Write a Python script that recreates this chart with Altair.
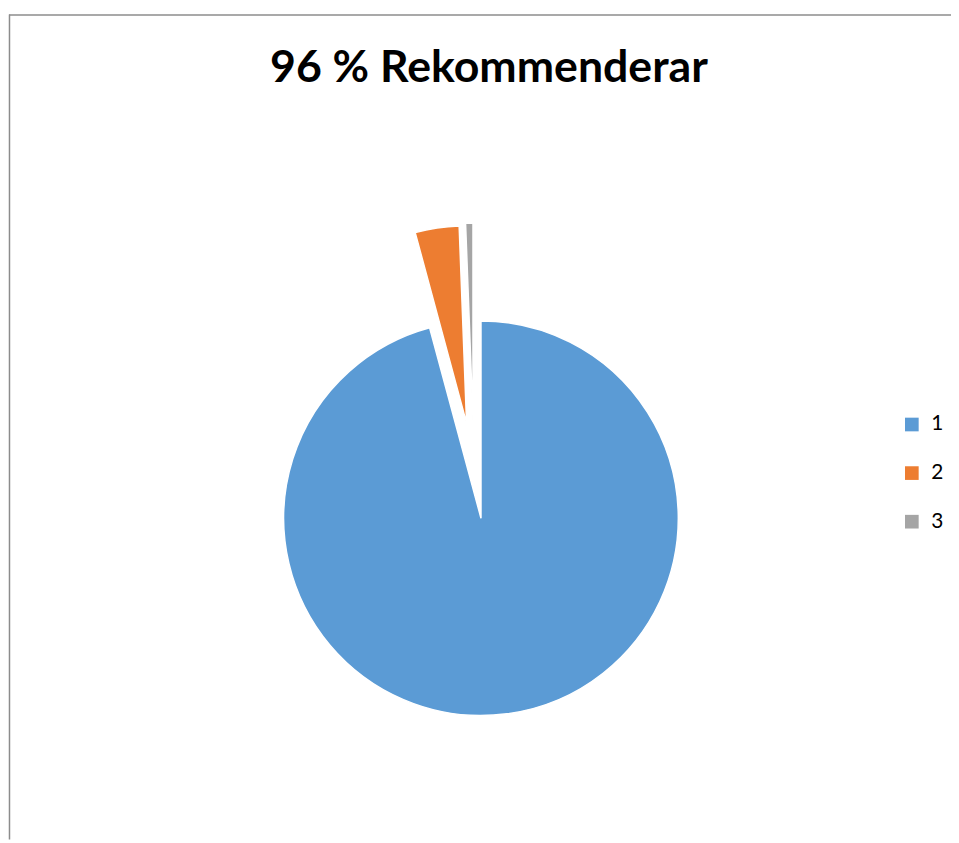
import altair as alt
import pandas as pd

# Data
categories = ["1", "2", "3"]
counts = [160, 6, 1]
title_text = "96 % Rekommenderar"

# Styles
colors = ["#5B9BD5", "#ED7D31", "#A5A5A5"]
explode_dist = [0, 97, 99]
explode_shift_deg = [0, 0, 3.6]

W, H = 951, 835
CX, CY, R = 477, 511, 199

df = pd.DataFrame({
    "cat": categories,
    "value": counts,
    "order": list(range(len(categories))),
    "d": explode_dist,
    "shift": explode_shift_deg,
})

base = alt.Chart(df)

pie = base.mark_arc(radius=R, stroke="white", strokeWidth=1.5).transform_window(
    cum="sum(value)", sort=[alt.SortField("order")]
).transform_joinaggregate(
    total="sum(value)"
).transform_calculate(
    mid="(datum.cum - datum.value/2)/datum.total*2*PI - datum.shift*PI/180"
).transform_calculate(
    px=f"{CX} + datum.d*sin(datum.mid)",
    py=f"{CY} - datum.d*cos(datum.mid)",
).encode(
    theta=alt.Theta("value:Q", stack=True),
    order=alt.Order("order:Q"),
    x=alt.X("px:Q", scale=None),
    y=alt.Y("py:Q", scale=None),
    color=alt.Color(
        "cat:N",
        scale=alt.Scale(domain=categories, range=colors),
        legend=alt.Legend(
            title=None,
            orient="none",
            legendX=901,
            legendY=406,
            symbolType="square",
            symbolSize=190,
            symbolStrokeWidth=0,
            labelFontSize=21,
            labelFont="Lato",
            labelColor="#000000",
            labelOffset=9,
            rowPadding=27,
        ),
    ),
)

title = alt.Chart(pd.DataFrame({"t": [title_text]})).mark_text(
    font="Lato", fontSize=45, fontWeight="bold", color="#000000",
    align="center", baseline="alphabetic",
).encode(
    text="t:N", x=alt.value(485), y=alt.value(71)
)

border_left = alt.Chart(pd.DataFrame({"a": [0]})).mark_rule(
    color="#8c8c8c", strokeWidth=1.5
).encode(x=alt.value(1.5), y=alt.value(3), y2=alt.value(H))

border_top = alt.Chart(pd.DataFrame({"a": [0]})).mark_rule(
    color="#8c8c8c", strokeWidth=1.5
).encode(y=alt.value(3.5), x=alt.value(1), x2=alt.value(W))

chart = alt.layer(border_left, border_top, title, pie).properties(
    width=W, height=H, padding=0, autosize=alt.AutoSizeParams(type="none")
).configure_view(stroke=None)

chart.save("out.html", embed_options={"renderer": "svg", "actions": False})
